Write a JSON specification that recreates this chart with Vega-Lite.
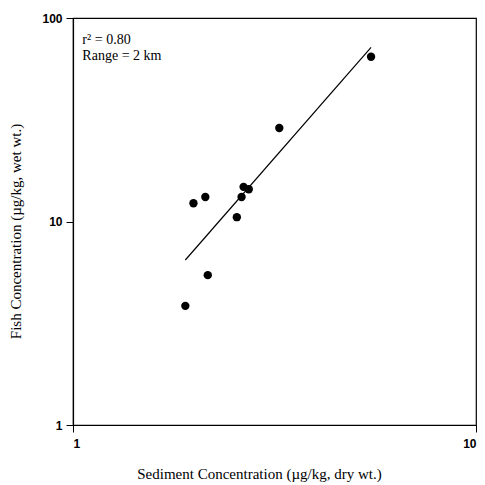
{
  "$schema": "https://vega.github.io/schema/vega-lite/v6.json",
  "width": 403,
  "height": 407,
  "autosize": "none",
  "padding": {"left": 73, "top": 18, "right": 9, "bottom": 60},
  "background": "white",
  "config": {
    "view": {"stroke": "black", "strokeWidth": 1.2},
    "axis": {
      "grid": false,
      "domainColor": "black",
      "domainWidth": 1.2,
      "tickColor": "black",
      "tickSize": 7,
      "labelFont": "Liberation Sans",
      "labelFontSize": 12,
      "labelFontWeight": "bold",
      "labelColor": "black",
      "titleFont": "Liberation Serif",
      "titleFontSize": 15,
      "titleFontWeight": "normal",
      "titleColor": "black"
    }
  },
  "datasets": {
    "points": [
      {"sediment": 5.49, "fish": 64.5},
      {"sediment": 3.25, "fish": 28.8},
      {"sediment": 2.65, "fish": 14.8},
      {"sediment": 2.73, "fish": 14.4},
      {"sediment": 2.62, "fish": 13.2},
      {"sediment": 2.55, "fish": 10.5},
      {"sediment": 2.13, "fish": 13.2},
      {"sediment": 1.99, "fish": 12.3},
      {"sediment": 2.16, "fish": 5.45},
      {"sediment": 1.90, "fish": 3.85}
    ],
    "fit": [
      {"sediment": 1.90, "fish": 6.47},
      {"sediment": 5.49, "fish": 71.8}
    ],
    "notes": [
      {"label": "r² = 0.80", "sediment": 1.055, "fish": 74.5},
      {"label": "Range = 2 km", "sediment": 1.055, "fish": 62.5}
    ]
  },
  "layer": [
    {
      "data": {"name": "fit"},
      "mark": {"type": "line", "color": "black", "strokeWidth": 1.2},
      "encoding": {
        "x": {
          "field": "sediment", "type": "quantitative",
          "scale": {"type": "log", "domain": [1, 10], "nice": false},
          "axis": {"values": [1, 10], "title": "Sediment Concentration (µg/kg, dry wt.)", "labelPadding": 6, "titlePadding": 17, "titleX": 186, "titleAlign": "center", "format": "d"}
        },
        "y": {
          "field": "fish", "type": "quantitative",
          "scale": {"type": "log", "domain": [1, 100], "nice": false},
          "axis": {"values": [1, 10, 100], "title": "Fish Concentration (µg/kg, wet wt.)", "labelPadding": 4, "titlePadding": 18, "titleY": 213, "titleAlign": "center", "format": "d"}
        }
      }
    },
    {
      "data": {"name": "points"},
      "mark": {"type": "circle", "color": "black", "opacity": 1, "size": 70},
      "encoding": {
        "x": {"field": "sediment", "type": "quantitative"},
        "y": {"field": "fish", "type": "quantitative"}
      }
    },
    {
      "data": {"name": "notes"},
      "mark": {"type": "text", "align": "left", "baseline": "alphabetic", "font": "Liberation Serif", "fontSize": 14, "color": "black"},
      "encoding": {
        "x": {"field": "sediment", "type": "quantitative"},
        "y": {"field": "fish", "type": "quantitative"},
        "text": {"field": "label"}
      }
    }
  ]
}
